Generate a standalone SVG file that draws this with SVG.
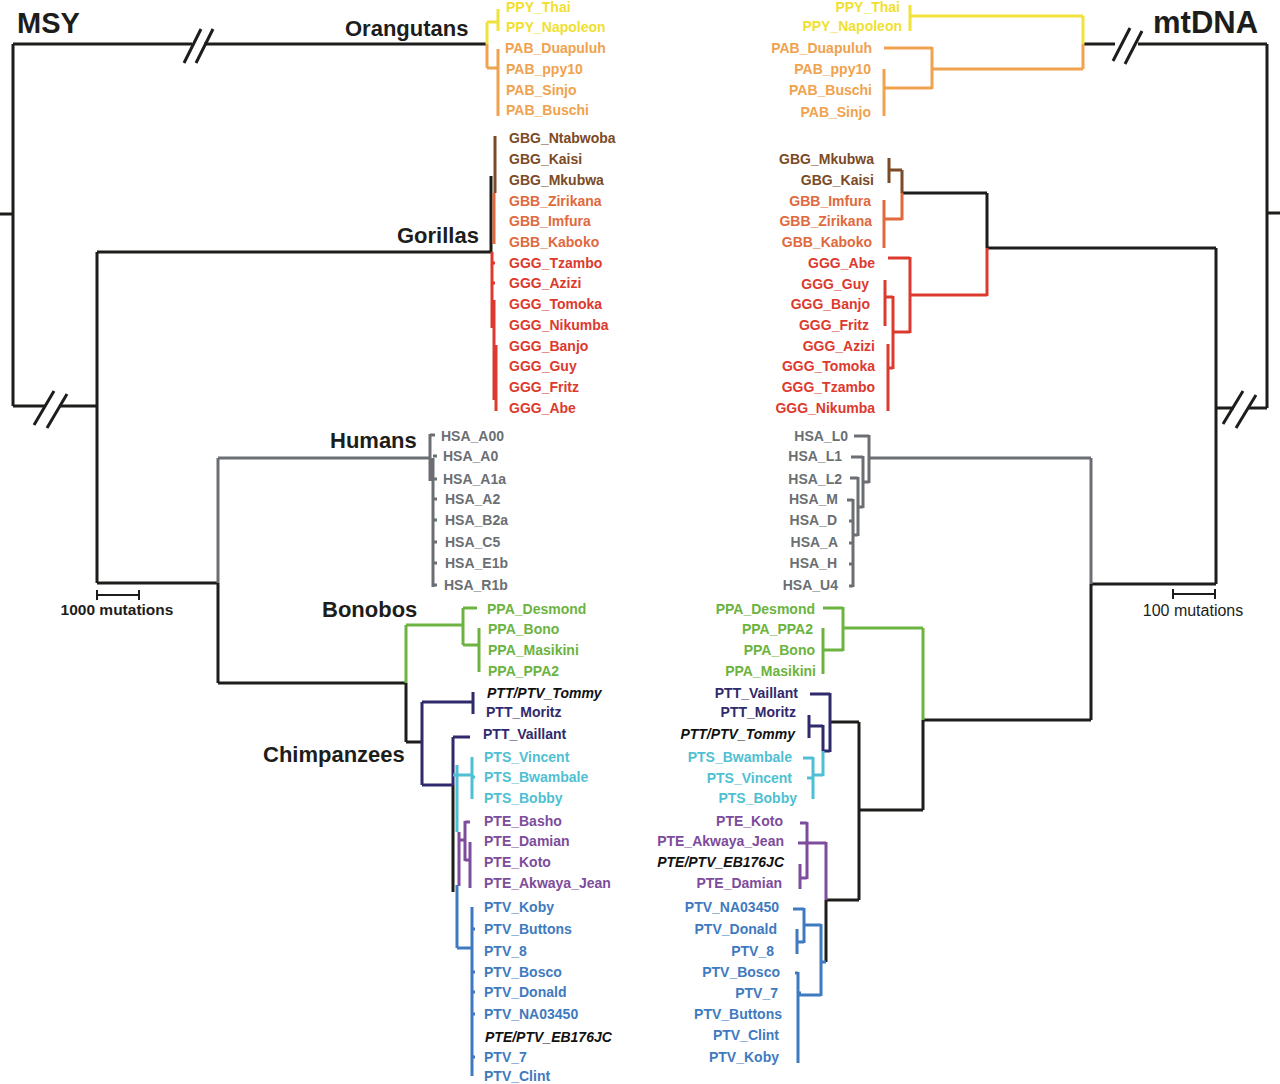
<svg xmlns="http://www.w3.org/2000/svg" width="1280" height="1084" viewBox="0 0 1280 1084">
<style>
.bg{fill:#fff}
path{fill:none;stroke-width:3;stroke-linecap:butt;stroke-linejoin:miter}
.sk{stroke:#1d1d1b}.sy{stroke:#f0e23a}.so{stroke:#f0a24e}.sbr{stroke:#7b4a26}.sgb{stroke:#e0693d}.sr{stroke:#dc3a2e}
.sh{stroke:#6b6f73}.sg{stroke:#6cb33f}.sn{stroke:#2f2a6b}.sc{stroke:#4fbfd3}.sp{stroke:#7d4c9c}.sb{stroke:#3f7ac0}
.thin{stroke-width:2}
text{font-family:"Liberation Sans",Arial,Helvetica,sans-serif}
.lab{font-size:14px;font-weight:bold}
.e{text-anchor:end}
.it{font-style:italic;fill:#111}
.fy{fill:#f0e030}.fo{fill:#f0a24e}.fbr{fill:#7b4a26}.fgb{fill:#e0693d}.fr{fill:#dc3a2e}.fh{fill:#6b6f73}
.fg{fill:#6cb33f}.fn{fill:#2f2a6b}.fc{fill:#4fbfd3}.fp{fill:#7d4c9c}.fb{fill:#3f7ac0}
.clade{font-size:22px;font-weight:bold;fill:#1d1d1b}
.big{font-size:29px;font-weight:bold;fill:#1d1d1b}
.scale{font-size:16px;fill:#1d1d1b}
</style>
<rect class="bg" x="0" y="0" width="1280" height="1084"/>

<g id="connectors">
  <g id="left-branches">
    <path class="sk" d="M0,214H13M13,44V406M13,44H192M204,44H487M13,406H45M59,406H97M97,252V583M97,252H491M97,583H218M218,583V683M218,683H406M406,683V742M406,742H422M491,176V252M453,785V892"/>
    <path class="sk" d="M184,63L201,29M196,63L213,29M34,425L54,391M47,428L67,394"/>
    <path class="sy" d="M487,22V44M487,22H498M498,9V31"/>
    <path class="so" d="M487,44V68M487,68H498M498,49V116"/>
    <path class="sbr" d="M495,136V193"/>
    <path class="sgb" d="M494,193V244"/>
    <path class="sr" d="M492,252V328M494,300V400M496,345V411M492,263H495M492,283H495M492,304H495"/>
    <path class="sh" d="M218,458H430M218,458V583M430,434V481M430,435H435M433,458V587M433,456H437M433,479H437M433,499H437M433,520H437M433,542H437M433,563H437M433,585H437"/>
    <path class="sg" d="M406,625V683M406,625H463M463,608V645M463,608H477M463,645H479M479,628V672"/>
    <path class="sn" d="M422,702V785M422,702H473M473,692V714M422,785H453M453,737V785M453,737H470"/>
    <path class="sc" d="M453,775H472M472,757V799M457,765V832M472,777H475"/>
    <path class="sp" d="M459,832V886M459,840H465M465,821V861M465,822H470M465,860H470M470,842V888"/>
    <path class="sb" d="M457,885V948M457,948H472M472,907V1076M472,929H475M472,972H475M472,992H475M472,1014H475M472,1057H475"/>
    <path class="sk thin" d="M97,595H139M97,590V600M139,590V600"/>
  </g>
  <g id="right-branches">
    <path class="sk" d="M1280,213H1267M1267,44V408M1267,44H1138M1115,44H1083M1267,408H1249M1234,408H1216M1216,248V584M1216,248H987M987,193V248M987,193H902M1216,584H1091M1091,584V720M1091,720H923M923,720V810M923,810H859M859,722V900M859,722H830M859,900H826M826,900V962"/>
    <path class="sk" d="M1113,61L1130,28M1125,64L1142,31M1223,424L1243,391M1236,428L1256,395"/>
    <path class="sy" d="M1083,16V44M1083,16H910M910,5V31"/>
    <path class="so" d="M1083,44V69M1083,69H932M932,47V89M932,48H884M932,88H884M884,69V116"/>
    <path class="sbr" d="M902,170V193M902,170H889M889,158V183"/>
    <path class="sgb" d="M902,193V220M902,219H884M884,200V248"/>
    <path class="sr" d="M987,248V296M987,295H910M910,257V333M910,258H888M910,332H893M893,296V369M893,297H885M885,280V326M893,368H888M888,344V411"/>
    <path class="sh" d="M1091,458V584M1091,458H869M869,435V483M869,436H854M869,482H863M863,456V508M863,457H851M863,507H858M858,477V536M858,478H850M858,535H853M853,499V587M853,500H847M853,521H849M853,543H849M853,564H849M853,586H849"/>
    <path class="sg" d="M923,628V720M923,628H843M843,607V651M843,608H823M843,650H823M823,628V674"/>
    <path class="sn" d="M830,693V752M830,694H810M830,751H823M823,725V751M823,726H809M809,715V738"/>
    <path class="sc" d="M823,751V776M823,775H813M813,757V799M813,758H803M813,778H807"/>
    <path class="sp" d="M826,842V900M826,843H807M807,822V879M807,823H800M807,843H798M807,878H800M800,864V889"/>
    <path class="sb" d="M826,962H821M821,924V996M821,925H804M804,908V943M804,909H793M804,942H797M797,929V954M821,995H798M798,972V1063M798,973H795M798,993H801"/>
    <path class="sk thin" d="M1173,594H1215M1173,589V599M1215,589V599"/>
  </g>
</g>

<g id="title-MSY"><text class="big" x="17" y="33">MSY</text></g>
<g id="title-mtDNA"><text class="big" x="1153" y="33" style="font-size:31px">mtDNA</text></g>
<g id="clade-orangutans"><text class="clade" x="345" y="36">Orangutans</text></g>
<g id="clade-gorillas"><text class="clade" x="397" y="243">Gorillas</text></g>
<g id="clade-humans"><text class="clade" x="330" y="448">Humans</text></g>
<g id="clade-bonobos"><text class="clade" x="322" y="617">Bonobos</text></g>
<g id="clade-chimpanzees"><text class="clade" x="263" y="762">Chimpanzees</text></g>
<g id="scale-msy"><text class="scale" style="font-weight:bold;font-size:15.5px" x="117" y="615" text-anchor="middle">1000 mutations</text></g>
<g id="scale-mt"><text class="scale" x="1193" y="616" text-anchor="middle">100 mutations</text></g>

<g id="left-leaves" class="lab">
<g id="l-PPY_Thai"><text class="fy" x="506" y="12">PPY_Thai</text></g>
<g id="l-PPY_Napoleon"><text class="fy" x="506" y="32">PPY_Napoleon</text></g>
<g id="l-PAB_Duapuluh"><text class="fo" x="505" y="53">PAB_Duapuluh</text></g>
<g id="l-PAB_ppy10"><text class="fo" x="506" y="74">PAB_ppy10</text></g>
<g id="l-PAB_Sinjo"><text class="fo" x="506" y="95">PAB_Sinjo</text></g>
<g id="l-PAB_Buschi"><text class="fo" x="506" y="115">PAB_Buschi</text></g>
<g id="l-GBG_Ntabwoba"><text class="fbr" x="509" y="143">GBG_Ntabwoba</text></g>
<g id="l-GBG_Kaisi"><text class="fbr" x="509" y="164">GBG_Kaisi</text></g>
<g id="l-GBG_Mkubwa"><text class="fbr" x="509" y="185">GBG_Mkubwa</text></g>
<g id="l-GBB_Zirikana"><text class="fgb" x="509" y="206">GBB_Zirikana</text></g>
<g id="l-GBB_Imfura"><text class="fgb" x="509" y="226">GBB_Imfura</text></g>
<g id="l-GBB_Kaboko"><text class="fgb" x="509" y="247">GBB_Kaboko</text></g>
<g id="l-GGG_Tzambo"><text class="fr" x="509" y="268">GGG_Tzambo</text></g>
<g id="l-GGG_Azizi"><text class="fr" x="509" y="288">GGG_Azizi</text></g>
<g id="l-GGG_Tomoka"><text class="fr" x="509" y="309">GGG_Tomoka</text></g>
<g id="l-GGG_Nikumba"><text class="fr" x="509" y="330">GGG_Nikumba</text></g>
<g id="l-GGG_Banjo"><text class="fr" x="509" y="351">GGG_Banjo</text></g>
<g id="l-GGG_Guy"><text class="fr" x="509" y="371">GGG_Guy</text></g>
<g id="l-GGG_Fritz"><text class="fr" x="509" y="392">GGG_Fritz</text></g>
<g id="l-GGG_Abe"><text class="fr" x="509" y="413">GGG_Abe</text></g>
<g id="l-HSA_A00"><text class="fh" x="441" y="441">HSA_A00</text></g>
<g id="l-HSA_A0"><text class="fh" x="443" y="461">HSA_A0</text></g>
<g id="l-HSA_A1a"><text class="fh" x="443" y="484">HSA_A1a</text></g>
<g id="l-HSA_A2"><text class="fh" x="445" y="504">HSA_A2</text></g>
<g id="l-HSA_B2a"><text class="fh" x="445" y="525">HSA_B2a</text></g>
<g id="l-HSA_C5"><text class="fh" x="445" y="547">HSA_C5</text></g>
<g id="l-HSA_E1b"><text class="fh" x="445" y="568">HSA_E1b</text></g>
<g id="l-HSA_R1b"><text class="fh" x="444" y="590">HSA_R1b</text></g>
<g id="l-PPA_Desmond"><text class="fg" x="487" y="614">PPA_Desmond</text></g>
<g id="l-PPA_Bono"><text class="fg" x="488" y="634">PPA_Bono</text></g>
<g id="l-PPA_Masikini"><text class="fg" x="488" y="655">PPA_Masikini</text></g>
<g id="l-PPA_PPA2"><text class="fg" x="488" y="676">PPA_PPA2</text></g>
<g id="l-PTT_PTV_Tommy"><text class="it" x="487" y="698">PTT/PTV_Tommy</text></g>
<g id="l-PTT_Moritz"><text class="fn" x="486" y="717">PTT_Moritz</text></g>
<g id="l-PTT_Vaillant"><text class="fn" x="483" y="739">PTT_Vaillant</text></g>
<g id="l-PTS_Vincent"><text class="fc" x="484" y="762">PTS_Vincent</text></g>
<g id="l-PTS_Bwambale"><text class="fc" x="484" y="782">PTS_Bwambale</text></g>
<g id="l-PTS_Bobby"><text class="fc" x="484" y="803">PTS_Bobby</text></g>
<g id="l-PTE_Basho"><text class="fp" x="484" y="826">PTE_Basho</text></g>
<g id="l-PTE_Damian"><text class="fp" x="484" y="846">PTE_Damian</text></g>
<g id="l-PTE_Koto"><text class="fp" x="484" y="867">PTE_Koto</text></g>
<g id="l-PTE_Akwaya_Jean"><text class="fp" x="484" y="888">PTE_Akwaya_Jean</text></g>
<g id="l-PTV_Koby"><text class="fb" x="484" y="912">PTV_Koby</text></g>
<g id="l-PTV_Buttons"><text class="fb" x="484" y="934">PTV_Buttons</text></g>
<g id="l-PTV_8"><text class="fb" x="484" y="956">PTV_8</text></g>
<g id="l-PTV_Bosco"><text class="fb" x="484" y="977">PTV_Bosco</text></g>
<g id="l-PTV_Donald"><text class="fb" x="484" y="997">PTV_Donald</text></g>
<g id="l-PTV_NA03450"><text class="fb" x="484" y="1019">PTV_NA03450</text></g>
<g id="l-PTE_PTV_EB176JC"><text class="it" x="485" y="1042">PTE/PTV_EB176JC</text></g>
<g id="l-PTV_7"><text class="fb" x="484" y="1062">PTV_7</text></g>
<g id="l-PTV_Clint"><text class="fb" x="484" y="1081">PTV_Clint</text></g>
</g>

<g id="right-leaves" class="lab e">
<g id="r-PPY_Thai"><text class="fy" x="900" y="12">PPY_Thai</text></g>
<g id="r-PPY_Napoleon"><text class="fy" x="902" y="31">PPY_Napoleon</text></g>
<g id="r-PAB_Duapuluh"><text class="fo" x="872" y="53">PAB_Duapuluh</text></g>
<g id="r-PAB_ppy10"><text class="fo" x="871" y="74">PAB_ppy10</text></g>
<g id="r-PAB_Buschi"><text class="fo" x="872" y="95">PAB_Buschi</text></g>
<g id="r-PAB_Sinjo"><text class="fo" x="871" y="117">PAB_Sinjo</text></g>
<g id="r-GBG_Mkubwa"><text class="fbr" x="874" y="164">GBG_Mkubwa</text></g>
<g id="r-GBG_Kaisi"><text class="fbr" x="874" y="185">GBG_Kaisi</text></g>
<g id="r-GBB_Imfura"><text class="fgb" x="871" y="206">GBB_Imfura</text></g>
<g id="r-GBB_Zirikana"><text class="fgb" x="872" y="226">GBB_Zirikana</text></g>
<g id="r-GBB_Kaboko"><text class="fgb" x="872" y="247">GBB_Kaboko</text></g>
<g id="r-GGG_Abe"><text class="fr" x="875" y="268">GGG_Abe</text></g>
<g id="r-GGG_Guy"><text class="fr" x="869" y="289">GGG_Guy</text></g>
<g id="r-GGG_Banjo"><text class="fr" x="870" y="309">GGG_Banjo</text></g>
<g id="r-GGG_Fritz"><text class="fr" x="869" y="330">GGG_Fritz</text></g>
<g id="r-GGG_Azizi"><text class="fr" x="875" y="351">GGG_Azizi</text></g>
<g id="r-GGG_Tomoka"><text class="fr" x="875" y="371">GGG_Tomoka</text></g>
<g id="r-GGG_Tzambo"><text class="fr" x="875" y="392">GGG_Tzambo</text></g>
<g id="r-GGG_Nikumba"><text class="fr" x="875" y="413">GGG_Nikumba</text></g>
<g id="r-HSA_L0"><text class="fh" x="848" y="441">HSA_L0</text></g>
<g id="r-HSA_L1"><text class="fh" x="842" y="461">HSA_L1</text></g>
<g id="r-HSA_L2"><text class="fh" x="842" y="484">HSA_L2</text></g>
<g id="r-HSA_M"><text class="fh" x="838" y="504">HSA_M</text></g>
<g id="r-HSA_D"><text class="fh" x="837" y="525">HSA_D</text></g>
<g id="r-HSA_A"><text class="fh" x="838" y="547">HSA_A</text></g>
<g id="r-HSA_H"><text class="fh" x="837" y="568">HSA_H</text></g>
<g id="r-HSA_U4"><text class="fh" x="838" y="590">HSA_U4</text></g>
<g id="r-PPA_Desmond"><text class="fg" x="815" y="614">PPA_Desmond</text></g>
<g id="r-PPA_PPA2"><text class="fg" x="813" y="634">PPA_PPA2</text></g>
<g id="r-PPA_Bono"><text class="fg" x="815" y="655">PPA_Bono</text></g>
<g id="r-PPA_Masikini"><text class="fg" x="816" y="676">PPA_Masikini</text></g>
<g id="r-PTT_Vaillant"><text class="fn" x="798" y="698">PTT_Vaillant</text></g>
<g id="r-PTT_Moritz"><text class="fn" x="796" y="717">PTT_Moritz</text></g>
<g id="r-PTT_PTV_Tommy"><text class="it" x="795" y="739">PTT/PTV_Tommy</text></g>
<g id="r-PTS_Bwambale"><text class="fc" x="792" y="762">PTS_Bwambale</text></g>
<g id="r-PTS_Vincent"><text class="fc" x="792" y="783">PTS_Vincent</text></g>
<g id="r-PTS_Bobby"><text class="fc" x="797" y="803">PTS_Bobby</text></g>
<g id="r-PTE_Koto"><text class="fp" x="783" y="826">PTE_Koto</text></g>
<g id="r-PTE_Akwaya_Jean"><text class="fp" x="784" y="846">PTE_Akwaya_Jean</text></g>
<g id="r-PTE_PTV_EB176JC"><text class="it" x="784" y="867">PTE/PTV_EB176JC</text></g>
<g id="r-PTE_Damian"><text class="fp" x="782" y="888">PTE_Damian</text></g>
<g id="r-PTV_NA03450"><text class="fb" x="779" y="912">PTV_NA03450</text></g>
<g id="r-PTV_Donald"><text class="fb" x="777" y="934">PTV_Donald</text></g>
<g id="r-PTV_8"><text class="fb" x="774" y="956">PTV_8</text></g>
<g id="r-PTV_Bosco"><text class="fb" x="780" y="977">PTV_Bosco</text></g>
<g id="r-PTV_7"><text class="fb" x="778" y="998">PTV_7</text></g>
<g id="r-PTV_Buttons"><text class="fb" x="782" y="1019">PTV_Buttons</text></g>
<g id="r-PTV_Clint"><text class="fb" x="779" y="1040">PTV_Clint</text></g>
<g id="r-PTV_Koby"><text class="fb" x="779" y="1062">PTV_Koby</text></g>
</g>
</svg>
